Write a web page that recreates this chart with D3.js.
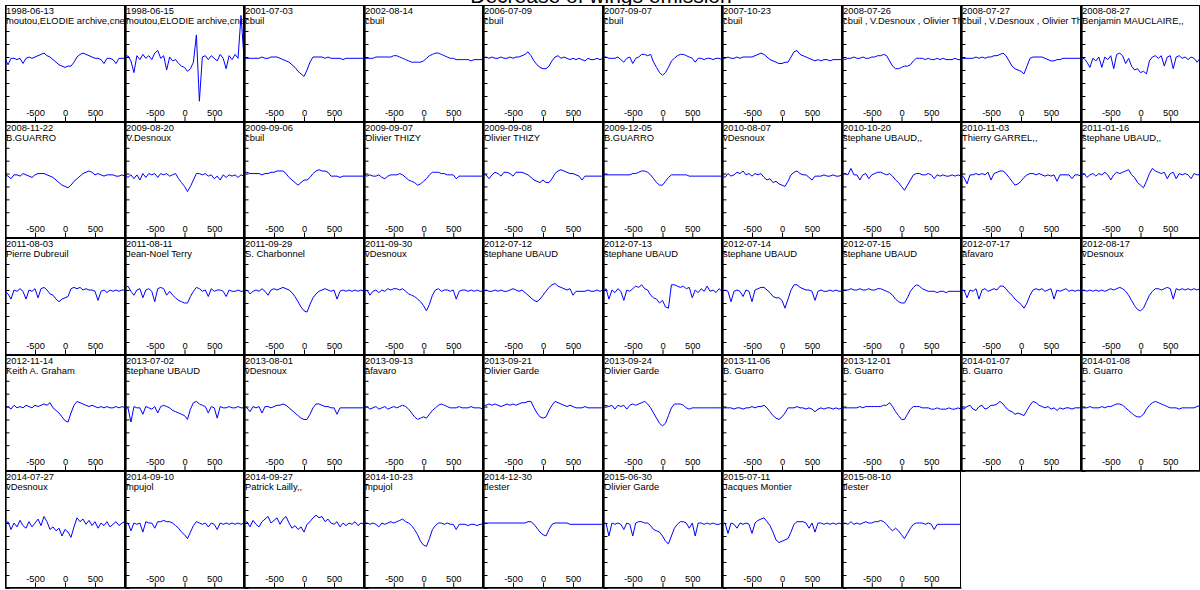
<!DOCTYPE html>
<html>
<head>
<meta charset="utf-8">
<script src="https://cdn.jsdelivr.net/npm/d3@7"></script>
<style>
  body { margin: 0; background: #fff; }
  svg { display: block; }
</style>
</head>
<body>
<svg id="chart" width="1200" height="590"></svg>
<script>
// Radial velocity grid (km/s) shared by every profile
const velocity = [-1000,-950,-900,-850,-800,-750,-700,-650,-600,-550,-500,-450,-400,-350,-300,-250,-200,-150,-100,-50,
  0,50,100,150,200,250,300,350,400,450,500,550,600,650,700,750,800,850,900,950,1000];

const dates = ["1998-06-13","1998-06-15","2001-07-03","2002-08-14","2006-07-09","2007-09-07","2007-10-23","2008-07-26","2008-07-27","2008-08-27",
  "2008-11-22","2009-08-20","2009-09-06","2009-09-07","2009-09-08","2009-12-05","2010-08-07","2010-10-20","2010-11-03","2011-01-16",
  "2011-08-03","2011-08-11","2011-09-29","2011-09-30","2012-07-12","2012-07-13","2012-07-14","2012-07-15","2012-07-17","2012-08-17",
  "2012-11-14","2013-07-02","2013-08-01","2013-09-13","2013-09-21","2013-09-24","2013-11-06","2013-12-01","2014-01-07","2014-01-08",
  "2014-07-27","2014-09-10","2014-09-27","2014-10-23","2014-12-30","2015-06-30","2015-07-11","2015-08-10"];

const observers = ["moutou,ELODIE archive,cneir","moutou,ELODIE archive,cneir","cbuil","cbuil","cbuil","cbuil","cbuil",
  "cbuil , V.Desnoux , Olivier Thizy","cbuil , V.Desnoux , Olivier Thizy","Benjamin MAUCLAIRE,,",
  "B.GUARRO","V.Desnoux","cbuil","Olivier THIZY","Olivier THIZY","B.GUARRO","vDesnoux","stephane UBAUD,,","Thierry GARREL,,","stephane UBAUD,,",
  "Pierre Dubreuil","Jean-Noel Terry","S. Charbonnel","vDesnoux","stephane UBAUD","stephane UBAUD","stephane UBAUD","stephane UBAUD","afavaro","vDesnoux",
  "Keith A. Graham","stephane UBAUD","vDesnoux","afavaro","Olivier Garde","Olivier Garde","B. Guarro","B. Guarro","B. Guarro","B. Guarro",
  "vDesnoux","mpujol","Patrick Lailly,,","mpujol","tlester","Olivier Garde","Jacques Montier","tlester"];

// Normalised flux (percent of continuum), one array per spectrum
const s01 = [99,94,99,99,98,99,95,99,100,99,100,101,102,103,101,100,98,96,94,93,92,93,93,96,100,102,103,102,101,100,99,99,98,95,99,99,98,95,99,99,99];
const s02 = [99,101,97,88,101,98,102,99,101,98,103,105,99,101,90,100,97,98,95,93,92,89,91,96,117,66,100,101,98,101,99,97,102,99,91,101,98,102,99,132,99];
const s03 = [99,99,99,99,99,99,100,99,99,100,100,100,99,98,97,96,94,92,89,87,85,90,96,100,100,100,100,99,100,99,99,99,99,98,99,99,99,99,99,99,99];
const s04 = [99,99,99,99,100,100,100,100,100,100,101,101,100,99,98,97,96,96,96,96,97,99,101,102,103,103,102,101,100,99,99,98,98,98,98,98,97,98,98,98,98];
const s05 = [99,100,99,100,99,99,100,99,99,100,99,100,100,101,102,104,101,97,94,92,91,91,93,97,100,101,99,100,99,98,99,98,99,98,97,99,98,98,99,98,99];
const s06 = [100,100,99,99,99,100,98,96,99,100,95,99,100,102,102,101,102,96,92,88,86,88,92,97,99,101,102,102,101,100,99,96,99,99,98,99,99,98,99,99,98];
const s07 = [99,99,100,99,99,100,99,100,100,100,100,101,102,103,102,100,98,97,96,95,95,96,96,100,104,105,102,101,100,99,98,97,98,97,98,98,97,98,98,98,98];
const s08 = [99,98,99,99,100,99,99,100,99,99,100,100,101,101,102,101,97,93,91,91,92,93,93,94,97,99,99,99,98,99,98,98,99,98,99,98,98,98,99,98,98];
const s09 = [99,99,99,99,99,100,99,100,99,100,100,101,101,102,103,101,97,93,91,90,89,87,93,99,100,100,100,100,99,98,97,97,98,98,99,99,99,99,99,99,99];
const s10 = [98,99,96,92,99,97,100,92,100,98,101,91,102,103,101,95,99,93,90,91,88,89,87,97,100,101,99,101,93,100,101,91,100,101,99,100,98,100,99,96,99];
const s11 = [99,98,96,99,99,98,100,99,98,97,99,100,100,100,99,98,97,95,93,91,90,89,91,94,96,98,100,101,102,101,99,100,99,98,99,99,99,98,98,99,98];
const s12 = [99,97,99,96,99,95,100,97,100,99,100,97,100,99,100,98,99,100,96,93,90,86,90,95,100,100,99,100,98,99,96,98,95,99,97,99,98,99,97,99,98];
const s13 = [101,101,100,100,100,100,99,100,100,101,101,102,102,102,100,97,95,93,91,93,95,95,97,100,102,103,102,102,101,98,98,98,97,98,98,98,98,98,98,98,98];
const s14 = [99,98,99,98,98,99,97,96,98,99,99,99,100,99,97,95,94,93,91,92,94,96,99,101,101,101,100,100,99,99,99,96,98,98,98,98,98,98,98,98,98];
const s15 = [99,99,96,99,101,100,98,101,101,100,98,101,101,101,100,99,97,95,94,93,95,93,93,96,100,102,103,102,101,100,100,99,98,95,98,98,98,98,98,98,98];
const s16 = [99,99,99,99,99,99,99,99,99,99,100,100,101,102,102,101,99,96,93,91,91,94,97,99,99,99,99,99,99,98,98,98,98,98,98,98,98,98,98,98,98];
const s17 = [99,97,100,98,99,101,100,102,99,100,98,100,99,100,97,95,96,93,94,92,91,90,94,99,101,102,100,99,99,97,95,98,98,98,99,98,98,99,98,98,99];
const s18 = [100,100,99,104,99,99,95,99,100,96,99,100,101,101,100,99,100,98,95,93,90,87,91,95,99,100,100,99,99,100,99,96,99,98,99,98,98,99,98,99,98];
const s19 = [99,97,92,99,99,100,99,100,99,101,95,100,101,102,102,100,97,94,91,92,94,97,99,100,100,99,100,99,98,99,98,99,94,99,99,99,99,96,99,99,98];
const s20 = [99,100,97,99,100,98,100,99,101,99,95,99,101,100,101,102,103,99,97,93,91,89,94,100,104,102,101,100,101,96,100,101,96,100,99,100,99,96,100,99,99];
const s21 = [99,97,93,100,99,101,99,93,100,99,101,94,101,102,100,97,96,93,91,93,94,95,101,102,101,102,100,101,100,100,99,92,99,100,98,100,99,100,99,100,100];
const s22 = [101,103,99,96,100,101,94,100,101,99,91,101,102,101,96,99,96,94,92,91,90,90,95,99,102,101,99,100,95,101,99,100,100,99,95,100,99,99,100,99,99];
const s23 = [99,100,97,99,100,99,101,99,96,100,101,100,101,102,101,100,98,95,91,87,84,83,89,94,97,99,100,101,100,99,100,93,99,100,99,100,99,100,99,100,99];
const s24 = [99,100,96,99,100,98,100,99,101,100,101,101,100,101,99,97,96,95,93,91,88,84,89,96,100,101,99,100,100,99,100,93,99,100,100,99,100,99,100,99,99];
const s25 = [99,100,99,99,100,99,100,99,99,100,101,100,99,100,98,96,94,92,91,93,96,99,102,104,105,103,102,101,100,101,96,99,99,99,99,100,99,99,100,99,100];
const s26 = [99,101,93,100,98,101,99,92,100,99,101,103,102,104,101,100,96,94,93,90,92,87,86,104,104,103,102,103,101,102,94,100,98,101,99,103,99,100,98,101,99];
const s27 = [99,100,99,91,99,100,99,95,100,99,91,100,101,102,102,100,98,95,94,94,92,86,93,100,104,104,102,101,100,100,99,92,99,100,99,99,100,99,100,99,99];
const s28 = [100,100,100,101,100,100,101,100,100,101,100,100,101,101,100,99,98,96,93,91,90,90,94,99,102,104,103,101,100,99,99,99,98,99,99,98,99,99,99,99,99];
const s29 = [99,100,94,100,99,101,93,100,101,99,100,101,100,103,103,101,98,96,93,91,89,86,90,96,100,101,100,101,99,100,101,93,100,99,100,101,99,100,99,100,99];
const s30 = [99,100,99,100,99,100,99,100,99,100,101,100,101,102,101,99,96,92,88,85,84,86,91,96,99,101,101,100,101,102,101,93,101,100,101,100,101,100,101,100,101];
const s31 = [99,100,98,101,99,100,99,101,100,99,101,100,101,102,101,103,99,97,95,92,89,88,95,101,104,103,102,101,100,101,100,99,100,99,100,99,99,100,99,100,99];
const s32 = [99,99,88,100,99,99,94,100,99,98,100,95,100,101,100,99,97,96,95,94,93,90,98,103,104,102,101,100,95,100,99,91,100,99,99,100,99,99,100,99,99];
const s33 = [100,99,96,100,99,100,95,100,100,99,100,101,101,102,101,99,97,95,93,91,90,90,94,99,102,102,101,100,100,99,99,94,99,99,99,99,99,99,99,99,99];
const s34 = [99,100,98,99,100,98,99,100,98,99,100,99,100,101,100,98,95,92,90,91,92,91,94,97,99,101,102,101,100,99,99,99,100,99,99,99,100,99,99,99,98];
const s35 = [101,101,102,101,102,101,100,101,102,101,102,101,102,103,103,104,104,99,95,92,91,92,97,101,104,103,102,101,100,101,100,99,99,99,100,99,99,99,99,99,99];
const s36 = [100,101,100,101,98,101,100,101,98,101,102,101,102,103,104,102,99,95,91,87,85,87,93,99,102,102,102,101,99,98,99,99,99,99,99,99,99,99,99,99,99];
const s37 = [99,99,99,99,98,99,99,98,99,99,100,99,100,100,101,99,96,93,91,90,92,95,99,99,99,100,99,99,98,99,98,96,98,99,98,99,99,98,99,98,99];
const s38 = [99,99,99,99,99,99,100,99,100,100,100,100,100,100,101,101,103,100,96,93,90,90,94,98,100,100,100,99,99,99,98,98,99,98,98,98,99,98,98,99,98];
const s39 = [99,98,100,101,98,97,100,101,98,99,101,101,102,104,102,99,97,96,94,95,94,93,97,101,104,103,101,100,99,100,98,99,97,99,98,99,99,98,99,99,99];
const s40 = [99,99,99,100,99,99,99,100,99,100,100,101,102,102,101,99,97,95,93,92,92,94,98,101,103,104,103,102,101,100,99,99,99,98,99,99,99,99,99,100,101];
const s41 = [99,101,95,100,97,102,98,96,101,97,100,103,98,105,101,95,97,94,96,90,95,93,89,97,104,101,103,99,102,98,101,96,100,98,101,97,99,101,98,100,101];
const s42 = [99,100,94,100,99,100,93,101,100,100,96,101,101,102,101,101,100,98,96,93,91,88,93,98,101,100,99,100,97,100,99,95,100,99,100,99,100,99,100,99,100];
const s43 = [99,101,97,102,99,97,101,103,105,100,102,104,99,103,105,100,96,98,95,97,93,99,101,104,106,104,105,101,103,100,99,101,97,100,98,100,99,101,98,100,99];
const s44 = [100,100,99,100,99,97,100,99,100,101,100,101,102,103,101,100,98,95,91,86,83,82,88,95,98,100,100,99,100,99,99,95,99,99,99,98,99,99,98,99,99];
const s45 = [100,100,100,100,100,100,100,100,100,100,100,100,100,100,100,101,101,99,96,93,91,90,95,99,100,100,100,100,100,99,99,99,99,99,99,99,99,99,99,99,99];
const s46 = [99,100,90,100,99,100,99,95,100,99,90,100,101,101,100,100,98,95,94,93,90,86,84,90,96,99,101,101,100,96,100,90,100,100,99,100,99,100,99,99,100];
const s47 = [99,100,92,100,99,96,100,99,100,99,92,100,102,103,104,101,98,93,87,85,86,87,88,93,99,101,101,101,100,96,100,93,100,100,99,100,99,100,99,100,99];
const s48 = [99,100,99,101,99,100,99,100,101,100,100,101,101,102,101,99,96,94,96,94,91,88,92,96,99,100,100,100,99,100,99,95,99,99,99,99,99,99,99,99,99];

const spectra = [s01,s02,s03,s04,s05,s06,s07,s08,s09,s10,s11,s12,s13,s14,s15,s16,s17,s18,s19,s20,
  s21,s22,s23,s24,s25,s26,s27,s28,s29,s30,s31,s32,s33,s34,s35,s36,s37,s38,s39,s40,
  s41,s42,s43,s44,s45,s46,s47,s48];

const velocityTicks = [-500, 0, 500];
const fluxTicks = [50, 60, 70, 80, 90, 100, 110, 120, 130, 140];

const FONT = '"Liberation Sans", Arial, sans-serif';
const svg = d3.select('#chart');

// Layout of the small-multiple grid
const nCols = 10, gridLeft = 5, gridTop = 5, cellW = 119.5, cellH = 116.5;

svg.append('text')
  .attr('x', 601).attr('y', 3)
  .attr('text-anchor', 'middle')
  .style('font-family', FONT).style('font-size', '21px')
  .text('Decrease of wings emission');

spectra.forEach((flux, i) => {
  const col = i % nCols, row = Math.floor(i / nCols);
  const left = Math.round(gridLeft + col * cellW);
  const right = Math.round(gridLeft + (col + 1) * cellW);
  const top = Math.round(gridTop + row * cellH);
  const bottom = Math.round(gridTop + (row + 1) * cellH);

  const x = d3.scaleLinear().domain([-1000, 1000]).range([left, right]);
  const y = d3.scaleLinear().domain([50, 140]).range([bottom, top]);

  const g = svg.append('g');
  const clipId = 'panel-clip-' + i;
  g.append('clipPath').attr('id', clipId)
    .append('rect')
    .attr('x', left + 1).attr('y', top + 1)
    .attr('width', right - left - 2).attr('height', bottom - top - 2);

  // panel frame
  g.append('rect')
    .attr('x', left + 0.5).attr('y', top + 0.5)
    .attr('width', right - left - 1).attr('height', bottom - top - 1)
    .attr('fill', '#fff').attr('stroke', '#000').attr('stroke-width', 1);

  // date and observer
  const labels = g.append('g').attr('clip-path', `url(#${clipId})`)
    .style('font-family', FONT).style('font-size', '9.4px').attr('fill', '#000');
  labels.append('text').attr('x', left + 1).attr('y', top + 8.5).text(dates[i]);
  labels.append('text').attr('x', left + 1).attr('y', top + 19).text(observers[i]);

  // left axis (unlabelled, inward ticks)
  const yAxis = g.append('g')
    .attr('transform', `translate(${left + 0.5},0)`)
    .call(d3.axisRight(y).tickValues(fluxTicks).tickSize(4).tickSizeOuter(0).tickFormat(''));
  yAxis.select('.domain').attr('stroke-width', 1.3);

  // bottom axis with labels inside the panel
  const xAxis = g.append('g')
    .attr('transform', `translate(0,${bottom - 0.5})`)
    .call(d3.axisTop(x).tickValues(velocityTicks).tickSize(5).tickSizeOuter(0).tickPadding(1)
      .tickFormat(d => String(d)));
  xAxis.select('.domain').attr('stroke-width', 1.3);
  xAxis.selectAll('text').style('font-family', FONT).style('font-size', '9.4px').attr('fill', '#000');

  // the profile
  g.append('path')
    .datum(flux)
    .attr('clip-path', `url(#${clipId})`)
    .attr('fill', 'none')
    .attr('stroke', '#0000ff')
    .attr('stroke-width', 1)
    .attr('stroke-linejoin', 'round')
    .attr('d', d3.line().x((d, k) => x(velocity[k])).y(d => y(d)));
});
</script>
</body>
</html>
